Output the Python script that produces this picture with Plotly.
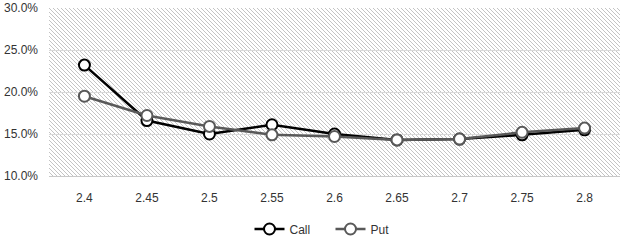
import base64
import plotly.graph_objects as go

strikes = ["2.4", "2.45", "2.5", "2.55", "2.6", "2.65", "2.7", "2.75", "2.8"]
call_iv = [0.232, 0.166, 0.150, 0.161, 0.150, 0.143, 0.144, 0.149, 0.155]
put_iv = [0.195, 0.172, 0.159, 0.149, 0.147, 0.143, 0.144, 0.152, 0.157]

W, H = 620, 242
ML, MR, MT, MB = 49, 0, 8, 66
PW, PH = W - ML - MR, H - MT - MB

svg = (
    f"<svg xmlns='http://www.w3.org/2000/svg' width='{PW}' height='{PH}'>"
    "<defs><pattern id='p' width='4' height='4' patternUnits='userSpaceOnUse'>"
    "<path d='M-1,-1 L5,5 M-1,3 L1,5 M3,-1 L5,1' stroke='#c4c4c4' stroke-width='1'/>"
    "</pattern></defs>"
    "<rect width='100%' height='100%' fill='white'/>"
    "<rect width='100%' height='100%' fill='url(#p)'/></svg>"
)
src = "data:image/svg+xml;base64," + base64.b64encode(svg.encode()).decode()

fig = go.Figure()
fig.add_trace(go.Scatter(
    x=strikes, y=call_iv, name="Call", mode="lines+markers",
    line=dict(color="#000000", width=2.5),
    marker=dict(symbol="circle", size=11, color="white",
                line=dict(color="#000000", width=2)),
))
fig.add_trace(go.Scatter(
    x=strikes, y=put_iv, name="Put", mode="lines+markers",
    line=dict(color="#595959", width=2.5),
    marker=dict(symbol="circle", size=11, color="white",
                line=dict(color="#595959", width=2)),
))

fig.update_layout(
    width=W, height=H,
    margin=dict(l=ML, r=MR, t=MT, b=MB, autoexpand=False),
    paper_bgcolor="white",
    plot_bgcolor="rgba(0,0,0,0)",
    font=dict(family="Liberation Sans, Arial, sans-serif", size=12, color="#333333"),
    images=[dict(source=src, xref="paper", yref="paper", x=0, y=1,
                 sizex=1, sizey=1, sizing="stretch", xanchor="left",
                 yanchor="top", layer="below")],
    legend=dict(orientation="h", x=0.493, xanchor="center",
                yref="container", y=1 - 229 / H, yanchor="middle",
                font=dict(size=12, color="#333333"),
                entrywidth=36, entrywidthmode="pixels",
                bgcolor="rgba(0,0,0,0)"),
    xaxis=dict(type="category", showgrid=False, showline=True,
               linecolor="#c8c8c8", linewidth=1, ticks="",
               ticklabelstandoff=11, zeroline=False),
    yaxis=dict(range=[0.10, 0.30], dtick=0.05, tick0=0.10,
               tickformat=".1%", showgrid=True, gridcolor="#d9d9d9",
               gridwidth=1, zeroline=False, showline=False,
               ticks="", ticklabelstandoff=10),
)

fig.write_html("out.html")
